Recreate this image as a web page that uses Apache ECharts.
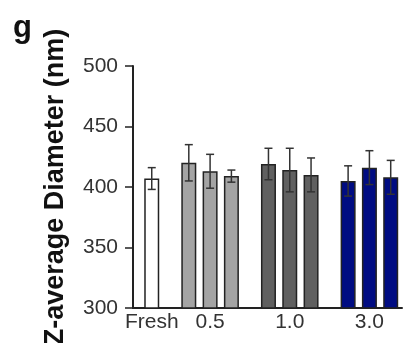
<!DOCTYPE html>
<html>
<head>
<meta charset="utf-8">
<script src="https://cdn.jsdelivr.net/npm/echarts@6/dist/echarts.min.js"></script>
<style>
  html, body { margin: 0; padding: 0; background: #fff; }
  #chart { width: 411px; height: 343px; }
</style>
</head>
<body>
<div id="chart"></div>
<script>
// groups and bar values (nm)
var groups = ['Fresh', '0.5', '1.0', '3.0']
var means = [[407], [420, 413, 409], [419, 414, 410], [405, 416, 408]]
var errors = [[9], [15, 14, 5], [13, 18, 14], [12.5, 14, 14]]
var colors = ['#ffffff', '#a4a4a4', '#606060', '#000c82']
var yTicks = [300, 350, 400, 450, 500]

// layout: bars in a group sit 1 unit apart, groups separated by a wider gap
var groupGap = 1.74
var barData = []
var errData = []
var labelPos = []
var pos = 0
groups.forEach(function (g, gi) {
  if (gi > 0) pos += groupGap
  var first = pos
  means[gi].forEach(function (v, i) {
    barData.push({ value: [pos, v], itemStyle: { color: colors[gi] } })
    errData.push([pos, v - errors[gi][i], v + errors[gi][i]])
    if (i < means[gi].length - 1) pos += 1
  })
  labelPos.push((first + pos) / 2)
})

var myChart = echarts.init(document.getElementById('chart'))
var font = 'Liberation Sans, Arial, sans-serif'

var option = {
  animation: false,
  title: {
    text: 'g',
    left: 8,
    top: 8,
    textStyle: { fontFamily: font, fontSize: 31, fontWeight: 'bold', color: '#111' }
  },
  grid: { left: 133, right: 9, top: 66, bottom: 35, outerBoundsMode: 'none', containLabel: false },
  xAxis: {
    type: 'value',
    min: -0.88,
    max: 11.75,
    splitLine: { show: false },
    axisLine: { show: true, lineStyle: { color: '#222', width: 2 } },
    axisTick: { show: false },
    axisLabel: {
      customValues: labelPos,
      formatter: function (v) {
        var idx = labelPos.findIndex(function (p) { return Math.abs(p - v) < 1e-6 })
        return idx >= 0 ? groups[idx] : ''
      },
      fontFamily: font,
      fontSize: 21,
      color: '#333',
      margin: 4
    }
  },
  yAxis: {
    type: 'value',
    min: 300,
    max: 500,
    interval: 50,
    name: 'Z-average Diameter (nm)',
    nameLocation: 'middle',
    nameGap: 64,
    nameTextStyle: { fontFamily: font, fontSize: 27, fontWeight: 'bold', color: '#111' },
    splitLine: { show: false },
    axisLine: { show: true, onZero: false, lineStyle: { color: '#222', width: 2 } },
    axisTick: { show: true, length: 8, lineStyle: { color: '#222', width: 1.5 } },
    axisLabel: {
      fontFamily: font,
      fontSize: 21,
      color: '#333',
      margin: 15,
      formatter: function (v) { return yTicks.indexOf(v) >= 0 ? v : '' }
    }
  },
  series: [
    {
      type: 'bar',
      barWidth: 15,
      data: barData,
      itemStyle: { borderColor: '#222', borderWidth: 1.5 }
    },
    {
      type: 'custom',
      data: errData,
      z: 10,
      renderItem: function (params, api) {
        var x = api.value(0)
        var lo = api.coord([x, api.value(1)])
        var hi = api.coord([x, api.value(2)])
        var cap = 4
        var style = { stroke: '#333', lineWidth: 1.5 }
        return {
          type: 'group',
          children: [
            { type: 'line', shape: { x1: lo[0], y1: lo[1], x2: hi[0], y2: hi[1] }, style: style },
            { type: 'line', shape: { x1: hi[0] - cap, y1: hi[1], x2: hi[0] + cap, y2: hi[1] }, style: style },
            { type: 'line', shape: { x1: lo[0] - cap, y1: lo[1], x2: lo[0] + cap, y2: lo[1] }, style: style }
          ]
        }
      }
    }
  ]
}
myChart.setOption(option)
</script>
</body>
</html>
